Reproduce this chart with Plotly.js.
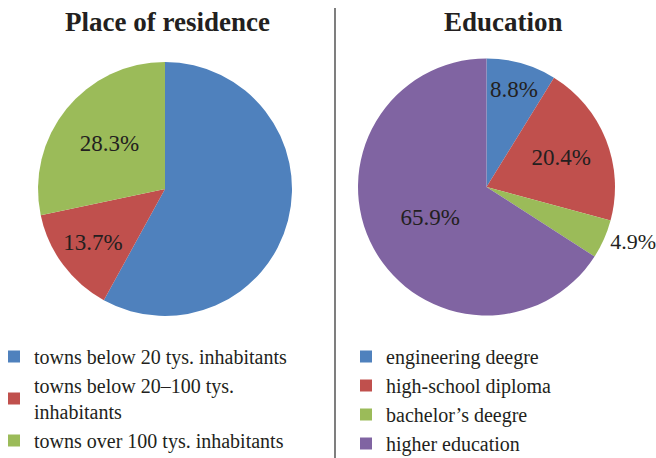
<!DOCTYPE html>
<html>
<head>
<meta charset="utf-8">
<script src="https://cdn.plot.ly/plotly-3.0.1.min.js"></script>
<style>
html,body{margin:0;padding:0;background:#fff;}
#chart{width:656px;height:458px;}
</style>
</head>
<body>
<div id="chart"></div>
<script>
// Place of residence
const residenceLabels = [
  'towns below 20 tys. inhabitants',
  'towns below 20\u2013100 tys.<br>inhabitants',
  'towns over 100 tys. inhabitants'
];
const residenceValues = [58.0, 13.7, 28.3];
const residenceShowLabel = [false, true, true];

// Education
const educationLabels = ['engineering deegre', 'high-school diploma', 'bachelor\u2019s deegre', 'higher education'];
const educationValues = [8.8, 20.4, 4.9, 65.9];
const educationTextPos = ['inside', 'inside', 'outside', 'inside'];

const titles = ['Place of residence', 'Education'];

const colors4 = ['#4f81bd', '#c0504d', '#9bbb59', '#8064a2'];
const textColor = '#231f20';
const serif = 'Liberation Serif';

const W = 656, H = 458;
const fmt = v => v.toFixed(1) + '%';

const traces = [
  {
    type: 'pie',
    labels: residenceLabels,
    values: residenceValues,
    text: residenceValues.map((v, i) => residenceShowLabel[i] ? fmt(v) : ''),
    textinfo: 'text',
    textposition: 'inside',
    insidetextorientation: 'horizontal',
    sort: false,
    direction: 'clockwise',
    rotation: 0,
    marker: {colors: colors4.slice(0, 3), line: {width: 0}},
    textfont: {family: serif, size: 23, color: textColor},
    domain: {x: [(165 - 127) / W, (165 + 127) / W], y: [1 - 316 / H, 1 - 62 / H]},
    legend: 'legend',
    hoverinfo: 'label+value'
  },
  {
    type: 'pie',
    labels: educationLabels,
    values: educationValues,
    text: educationValues.map(fmt),
    textinfo: 'text',
    textposition: educationTextPos,
    insidetextorientation: 'horizontal',
    sort: false,
    direction: 'clockwise',
    rotation: 0,
    marker: {colors: colors4, line: {width: 0}},
    textfont: {family: serif, size: 23, color: textColor},
    outsidetextfont: {family: serif, size: 22, color: textColor},
    domain: {x: [(486.5 - 128.5) / W, (486.5 + 128.5) / W], y: [1 - 315.5 / H, 1 - 58.5 / H]},
    legend: 'legend2',
    hoverinfo: 'label+value'
  }
];

const legendFont = {family: serif, size: 20, color: textColor};

const layout = {
  width: W, height: H,
  margin: {l: 0, r: 0, t: 0, b: 0, autoexpand: false},
  paper_bgcolor: '#ffffff',
  font: {family: serif, color: textColor},
  showlegend: true,
  legend: {
    x: -6 / W, xanchor: 'left', y: 1 - 337 / H, yanchor: 'top',
    font: legendFont, bgcolor: 'rgba(0,0,0,0)', itemclick: false, traceorder: 'normal'
  },
  legend2: {
    x: 346 / W, xanchor: 'left', y: 1 - 337 / H, yanchor: 'top',
    font: legendFont, bgcolor: 'rgba(0,0,0,0)', itemclick: false, traceorder: 'normal'
  },
  annotations: [
    {text: '<b>' + titles[0] + '</b>', x: 167.5 / W, y: 1 - 22 / H, xref: 'paper', yref: 'paper',
     xanchor: 'center', yanchor: 'middle', showarrow: false,
     font: {family: serif, size: 27, color: textColor}},
    {text: '<b>' + titles[1] + '</b>', x: 503.5 / W, y: 1 - 22 / H, xref: 'paper', yref: 'paper',
     xanchor: 'center', yanchor: 'middle', showarrow: false,
     font: {family: serif, size: 27, color: textColor}}
  ],
  shapes: [
    {type: 'line', xref: 'paper', yref: 'paper', x0: 335 / W, x1: 335 / W, y0: 0, y1: 1 - 8 / H,
     line: {color: '#3a3a3a', width: 1.3}}
  ]
};

Plotly.newPlot('chart', traces, layout, {displayModeBar: false, staticPlot: true});
</script>
</body>
</html>
